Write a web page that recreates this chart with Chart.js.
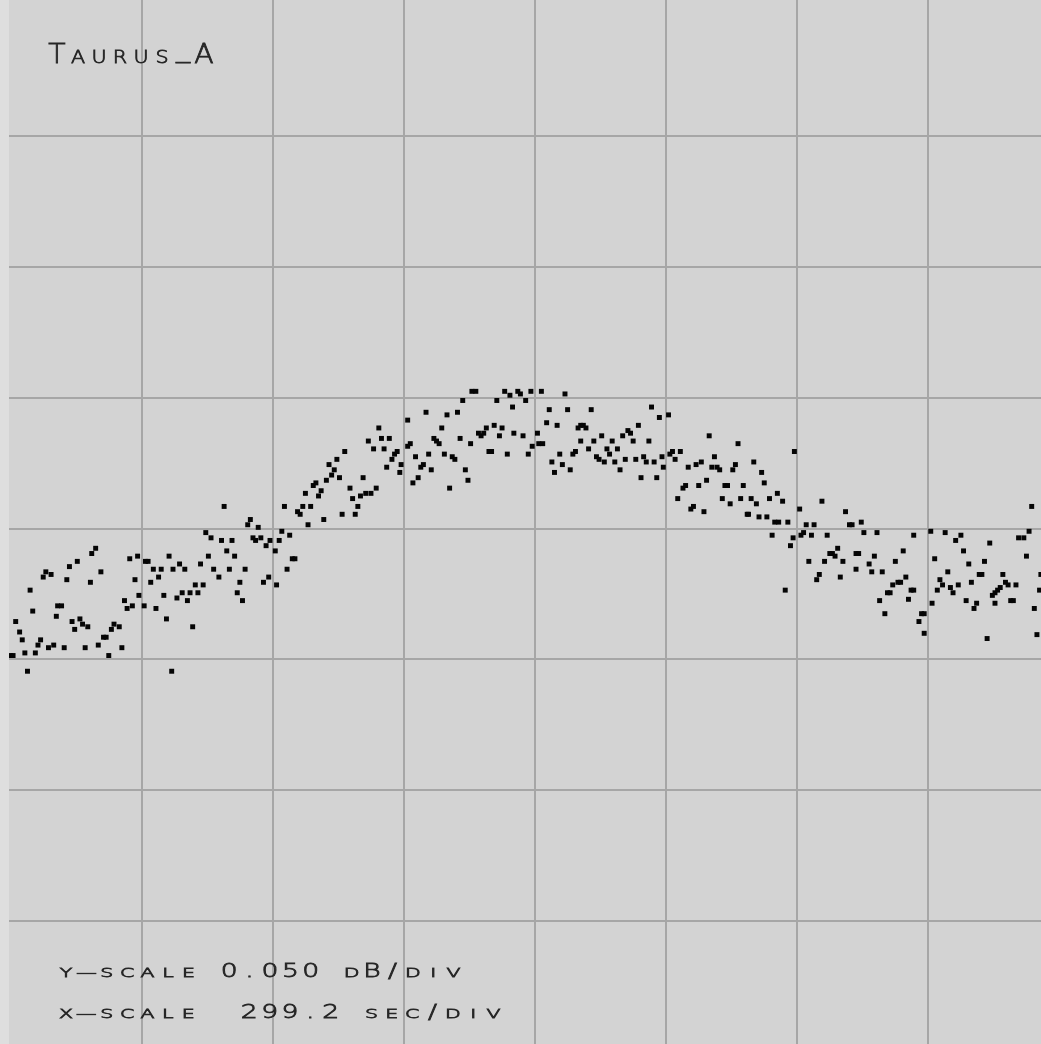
<!DOCTYPE html>
<html>
<head>
<meta charset="utf-8">
<title>Taurus_A</title>
<script src="https://cdn.jsdelivr.net/npm/chart.js@4.4.1/dist/chart.umd.min.js"></script>
<style>
  html, body { margin: 0; padding: 0; background: #dedede; }
  .wrap { width: 1041px; height: 1044px; }
</style>
</head>
<body>
<div class="wrap"><canvas id="scan"></canvas></div>
<script>
// drift scan, both axes in grid divisions (x: 299.2 s/div, y: 0.050 dB/div)
const xDiv = [
  0.00,0.02,0.13,0.11,0.19,0.09,0.07,0.04,0.17,0.15,
  0.25,0.27,0.31,0.21,0.23,0.29,0.33,0.41,0.35,0.36,
  0.39,0.43,0.45,0.51,0.62,0.65,0.69,0.61,0.47,0.49,
  0.53,0.55,0.59,0.57,0.67,0.71,0.73,0.75,0.77,0.79,
  0.83,0.85,0.87,0.89,0.93,0.91,0.97,0.95,0.98,1.02,
  1.03,1.05,1.09,1.15,1.07,1.13,1.11,1.17,1.19,1.21,
  1.24,1.23,
  1.29,1.33,1.27,1.31,1.35,1.37,1.43,1.41,1.47,1.39,
  1.45,1.51,1.49,1.53,1.55,1.59,1.61,1.65,1.69,1.67,
  1.71,1.63,1.75,1.73,1.77,1.79,1.83,1.81,1.89,1.85,
  1.87,1.91,1.95,1.98,1.93,1.97,2.03,2.02,2.05,2.07,
  2.13,2.11,2.15,2.17,2.09,2.19,2.21,2.23,2.29,2.25,
  2.27,2.31,2.33,2.35,2.37,2.39,2.41,2.43,2.45,2.47,
  2.49,2.51,2.53,2.55,
  2.59,2.61,2.63,2.65,2.67,2.71,2.75,2.69,2.79,2.73,
  2.77,2.81,2.83,2.85,2.89,2.87,2.91,2.93,2.95,2.97,
  2.98,3.03,3.03,3.05,3.09,3.07,3.11,3.13,3.15,3.17,
  3.19,3.21,3.23,3.25,3.27,3.29,3.31,3.33,3.37,3.39,
  3.35,3.41,3.43,3.47,3.49,3.45,3.51,3.52,3.55,3.57,
  3.59,3.61,3.63,3.65,3.67,3.69,3.73,3.75,3.71,3.77,
  3.81,3.79,3.83,3.84,
  3.87,3.89,3.93,3.91,3.95,3.97,3.98,4.02,4.03,4.06,
  4.05,4.09,4.11,4.13,4.15,4.17,4.19,4.21,4.23,4.25,
  4.27,4.29,4.31,4.33,4.35,4.37,4.39,4.35,4.41,4.43,
  4.45,4.47,4.49,4.53,4.51,4.55,4.57,4.59,4.61,4.63,
  4.65,4.67,4.69,4.71,4.73,4.75,4.77,4.79,4.81,4.83,
  4.85,4.87,4.89,4.91,4.93,4.95,4.97,4.98,5.02,5.03,
  5.05,5.07,5.11,5.09,5.13,
  5.15,5.17,5.19,5.21,5.23,5.27,5.25,5.29,5.31,5.33,
  5.35,5.39,5.41,5.37,5.43,5.45,5.47,5.49,5.51,5.53,
  5.55,5.57,5.59,5.62,5.63,5.65,5.69,5.67,5.71,5.73,
  5.75,5.77,5.79,5.81,5.83,5.86,5.85,5.89,5.93,5.91,
  5.95,5.97,5.98,6.02,6.03,6.05,6.07,6.09,6.11,6.13,
  6.15,6.17,6.19,6.21,6.23,6.25,6.27,6.29,6.31,6.33,
  6.35,6.37,6.40,6.42,6.45,6.47,6.45,6.49,6.51,6.55,
  6.57,6.59,6.61,6.63,6.65,6.67,6.69,6.71,6.73,6.75,
  6.77,6.79,6.81,6.83,6.85,6.87,6.89,6.89,6.93,6.95,
  6.97,6.97,7.02,7.03,7.05,7.07,7.09,7.11,7.13,7.15,
  7.17,7.19,7.21,7.23,7.25,7.27,7.29,7.31,7.33,7.35,
  7.37,7.39,7.41,7.43,7.45,7.47,7.49,7.51,7.51,7.53,
  7.55,7.57,7.59,7.61,7.63,7.65,7.67,7.69,7.73,7.75,
  7.77,7.79,7.81,7.83,7.85,7.86
];

const yDiv = [
  0.03,0.03,-0.09,0.05,0.05,0.15,0.21,0.29,0.37,0.53,
  0.63,0.67,0.65,0.11,0.15,0.09,0.11,0.09,0.33,0.41,
  0.41,0.61,0.71,0.75,0.81,0.85,0.67,0.59,0.29,0.23,
  0.31,0.27,0.25,0.09,0.11,0.17,0.17,0.03,0.23,0.27,
  0.25,0.09,0.45,0.39,0.41,0.77,0.79,0.61,0.49,0.41,
  0.75,0.75,0.69,0.69,0.59,0.63,0.39,0.49,0.31,0.79,
  0.69,-0.09,
  0.73,0.69,0.47,0.51,0.45,0.51,0.51,0.57,0.57,0.25,
  0.73,0.79,0.97,0.93,0.69,0.63,0.91,0.83,0.91,0.69,
  0.79,1.17,0.59,0.51,0.45,0.69,1.07,1.03,1.01,0.93,
  0.91,0.93,0.87,0.91,0.59,0.63,0.57,0.83,0.91,0.98,
  0.95,0.69,0.77,0.77,1.17,1.13,1.11,1.17,1.17,1.27,
  1.03,1.33,1.35,1.25,1.29,1.07,1.37,1.49,1.41,1.45,
  1.53,1.39,1.11,1.59,
  1.31,1.23,1.11,1.17,1.25,1.27,1.27,1.39,1.31,1.67,
  1.61,1.77,1.69,1.61,1.69,1.47,1.53,1.57,1.59,1.43,
  1.49,1.83,1.63,1.65,1.55,1.35,1.39,1.47,1.49,1.89,
  1.57,1.45,1.69,1.67,1.65,1.77,1.57,1.87,1.55,1.53,
  1.31,1.89,1.69,1.45,1.37,1.98,1.65,2.05,2.05,1.73,
  1.71,1.73,1.77,1.59,1.59,1.79,1.71,1.77,1.98,2.05,
  2.02,1.57,1.93,1.73,
  2.05,2.03,1.98,1.71,1.57,2.05,1.63,1.73,1.65,1.65,
  2.05,1.81,1.91,1.51,1.43,1.79,1.57,1.49,2.03,1.91,
  1.45,1.57,1.59,1.77,1.79,1.79,1.77,1.67,1.61,1.91,
  1.67,1.55,1.53,1.51,1.71,1.61,1.57,1.67,1.51,1.61,
  1.45,1.71,1.53,1.75,1.73,1.67,1.53,1.79,1.39,1.55,
  1.51,1.67,1.93,1.51,1.39,1.85,1.55,1.47,1.87,1.57,
  1.59,1.53,1.59,1.23,1.31,
  1.33,1.47,1.15,1.17,1.49,1.51,1.33,1.13,1.37,1.71,
  1.47,1.47,1.45,1.55,1.23,1.33,1.33,1.19,1.45,1.49,
  1.65,1.23,1.33,1.11,1.11,1.23,1.19,1.51,1.09,1.43,
  1.35,1.09,1.23,0.95,1.05,1.05,1.27,1.21,1.05,0.53,
  0.87,0.93,1.59,1.15,0.95,0.97,1.03,0.75,0.95,1.03,
  0.61,0.65,1.21,0.75,0.95,0.81,0.81,0.79,0.85,0.63,
  0.75,1.13,1.03,1.03,0.81,0.81,0.69,1.05,0.97,0.73,
  0.67,0.79,0.97,0.45,0.67,0.35,0.51,0.51,0.57,0.75,
  0.59,0.59,0.83,0.63,0.46,0.53,0.53,0.95,0.29,0.35,
  0.35,0.20,0.98,0.43,0.77,0.53,0.61,0.57,0.97,0.67,
  0.55,0.51,0.91,0.57,0.95,0.83,0.45,0.73,0.59,0.39,
  0.43,0.65,0.65,0.75,0.16,0.89,0.49,0.51,0.43,0.53,
  0.55,0.65,0.59,0.57,0.45,0.45,0.57,0.93,0.93,0.79,
  0.98,1.17,0.39,0.19,0.53,0.65
];

const xGrid = [1, 2, 3, 4, 5, 6, 7];
const yGrid = [-2, -1, 0, 1, 2, 3, 4];

const sourceName = "Taurus_A";
const yScaleText = "y-scale 0.050 dB/div";
const xScaleText = "x-scale  299.2 sec/div";

const points = xDiv.map((x, i) => ({ x: x, y: yDiv[i] }));

// grey screen behind the grid
const plotBg = {
  id: "plotBg",
  beforeDraw(chart) {
    const { ctx, chartArea: a } = chart;
    ctx.save();
    ctx.fillStyle = "#d3d3d3";
    ctx.fillRect(a.left, a.top, a.right - a.left, a.bottom - a.top);
    ctx.restore();
  },
};

// small caps lettering, one fixed cell per character
function drawCaps(ctx, text, x0, step, base, big, small, sxBig, sxSmall) {
  ctx.save();
  ctx.fillStyle = "#262626";
  ctx.strokeStyle = "#262626";
  ctx.lineWidth = 0.8;
  ctx.textAlign = "center";
  ctx.textBaseline = "alphabetic";
  [...text].forEach((ch, i) => {
    if (ch === " ") return;
    const lower = ch !== ch.toUpperCase();
    let glyph = ch.toUpperCase();
    let size = lower ? small : big;
    let sx = lower ? sxSmall : sxBig;
    let dy = 0;
    if (ch === "-") {
      glyph = "\u2014";
      size = small;
      sx = sxSmall;
    }
    if (ch === "_") dy = -0.22 * size;
    ctx.save();
    ctx.translate(x0 + i * step, base + dy);
    ctx.scale(sx, 1);
    ctx.font = `300 ${size}px "DejaVu Sans"`;
    ctx.fillText(glyph, 0, 0);
    ctx.strokeText(glyph, 0, 0);
    ctx.restore();
  });
  ctx.restore();
}

const captions = {
  id: "captions",
  afterDraw(chart) {
    const ctx = chart.ctx;
    drawCaps(ctx, sourceName, 57, 21, 63, 27, 18, 1.05, 1.15);
    drawCaps(ctx, yScaleText, 66, 20.4, 977, 19, 12.8, 1.4, 1.6);
    drawCaps(ctx, xScaleText, 66, 20.36, 1018, 19, 12.8, 1.4, 1.6);
  },
};

const gridOpts = { color: "#a6a6a6", lineWidth: 2, drawTicks: false };

new Chart(document.getElementById("scan"), {
  type: "scatter",
  data: {
    datasets: [
      {
        label: sourceName,
        data: points,
        pointStyle: "rect",
        pointRadius: 3.5,
        pointHoverRadius: 3.5,
        backgroundColor: "#050505",
        borderWidth: 0,
      },
    ],
  },
  options: {
    responsive: true,
    maintainAspectRatio: false,
    animation: false,
    events: [],
    layout: { autoPadding: false, padding: { left: 9, right: 0, top: 0, bottom: 0 } },
    plugins: {
      legend: { display: false },
      tooltip: { enabled: false },
    },
    scales: {
      x: {
        type: "linear",
        min: -0.011,
        max: 7.861,
        border: { display: false },
        ticks: { display: false },
        grid: gridOpts,
        afterBuildTicks: (s) => {
          s.ticks = xGrid.map((v) => ({ value: v }));
        },
      },
      y: {
        type: "linear",
        min: -2.94,
        max: 5.042,
        border: { display: false },
        ticks: { display: false },
        grid: gridOpts,
        afterBuildTicks: (s) => {
          s.ticks = yGrid.map((v) => ({ value: v }));
        },
      },
    },
  },
  plugins: [plotBg, captions],
});
</script>
</body>
</html>
